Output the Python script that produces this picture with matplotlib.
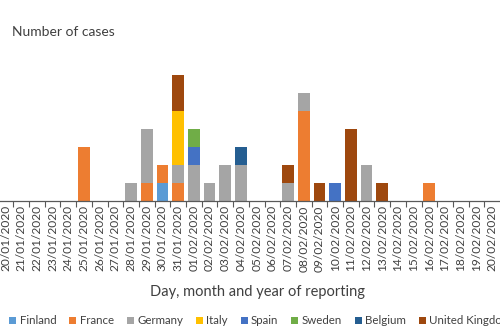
import matplotlib
matplotlib.use("Agg")
import matplotlib.pyplot as plt
import numpy as np

dates = ["20/01/2020", "21/01/2020", "22/01/2020", "23/01/2020", "24/01/2020",
         "25/01/2020", "26/01/2020", "27/01/2020", "28/01/2020", "29/01/2020",
         "30/01/2020", "31/01/2020", "01/02/2020", "02/02/2020", "03/02/2020",
         "04/02/2020", "05/02/2020", "06/02/2020", "07/02/2020", "08/02/2020",
         "09/02/2020", "10/02/2020", "11/02/2020", "12/02/2020", "13/02/2020",
         "14/02/2020", "15/02/2020", "16/02/2020", "17/02/2020", "18/02/2020",
         "19/02/2020", "20/02/2020"]

finland = [0,0,0,0,0, 0,0,0,0,0, 1,0,0,0,0, 0,0,0,0,0, 0,0,0,0,0, 0,0,0,0,0, 0,0]
france  = [0,0,0,0,0, 3,0,0,0,1, 1,1,0,0,0, 0,0,0,0,5, 0,0,0,0,0, 0,0,1,0,0, 0,0]
germany = [0,0,0,0,0, 0,0,0,1,3, 0,1,2,1,2, 2,0,0,1,1, 0,0,0,2,0, 0,0,0,0,0, 0,0]
italy   = [0,0,0,0,0, 0,0,0,0,0, 0,3,0,0,0, 0,0,0,0,0, 0,0,0,0,0, 0,0,0,0,0, 0,0]
spain   = [0,0,0,0,0, 0,0,0,0,0, 0,0,1,0,0, 0,0,0,0,0, 0,1,0,0,0, 0,0,0,0,0, 0,0]
sweden  = [0,0,0,0,0, 0,0,0,0,0, 0,0,1,0,0, 0,0,0,0,0, 0,0,0,0,0, 0,0,0,0,0, 0,0]
belgium = [0,0,0,0,0, 0,0,0,0,0, 0,0,0,0,0, 1,0,0,0,0, 0,0,0,0,0, 0,0,0,0,0, 0,0]
uk      = [0,0,0,0,0, 0,0,0,0,0, 0,2,0,0,0, 0,0,0,1,0, 1,0,4,0,1, 0,0,0,0,0, 0,0]

series = [("Finland", finland, "#5B9BD5"),
          ("France", france, "#ED7D31"),
          ("Germany", germany, "#A5A5A5"),
          ("Italy", italy, "#FFC000"),
          ("Spain", spain, "#4472C4"),
          ("Sweden", sweden, "#70AD47"),
          ("Belgium", belgium, "#255E91"),
          ("United Kingdom", uk, "#9E480E")]

plt.rcParams['font.family'] = ['Lato', 'DejaVu Sans']

fig = plt.figure(figsize=(5, 3.35), dpi=100)
ax = fig.add_axes([0.0, 1 - 201/335, 1.0, (201 - 39)/335])

x = np.arange(len(dates))
bottom = np.zeros(len(dates))
for name, vals, col in series:
    v = np.array(vals, dtype=float)
    ax.bar(x, v, width=0.75, bottom=bottom, color=col, label=name, zorder=2)
    bottom += v

ax.set_xlim(-0.35, 31.5)
ax.set_ylim(0, 9)
for s in ["top", "right", "left"]:
    ax.spines[s].set_visible(False)
ax.spines["bottom"].set_color("#595959")
ax.spines["bottom"].set_linewidth(0.9)
ax.set_yticks([])
ax.set_xticks(x)
ax.set_xticklabels(dates, rotation=90, fontsize=8.6, color="#404040")
ax.tick_params(axis="x", which="major", length=0, pad=3)
ax.set_xticks(x[:-1] + 0.5, minor=True)
ax.tick_params(axis="x", which="minor", length=4, color="#595959", width=0.8)

fig.text(12/500, 1 - 32/335, "Number of cases", fontsize=10, color="#404040",
         ha="left", va="center")
fig.text(257/500, 1 - 292/335, "Day, month and year of reporting", fontsize=10.5,
         color="#404040", ha="center", va="center")

handles, labels = ax.get_legend_handles_labels()
fig.legend(handles, labels, ncol=8, loc="center left",
           bbox_to_anchor=(-1/500, 1 - 321/335), frameon=False, fontsize=8.3,
           handlelength=0.6, handleheight=0.6, handletextpad=0.3,
           columnspacing=1.12, labelcolor="#404040")

fig.savefig("out.png", dpi=100)
